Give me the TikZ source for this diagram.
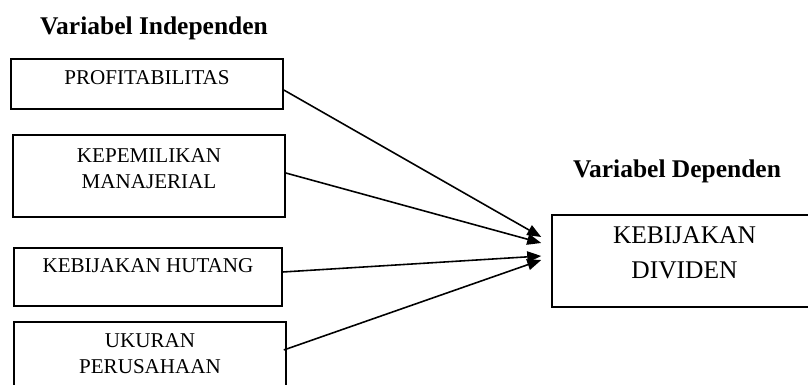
\documentclass[tikz,border=0pt]{standalone}
\usepackage{fontspec}
\setmainfont{Liberation Serif}
\usetikzlibrary{arrows.meta, positioning}

\begin{document}
\begin{tikzpicture}[
  x=0.02cm, y=0.02cm,
  varbox/.style={draw, line width=0.9pt, inner sep=0pt},
  boxtext/.style={inner sep=0pt, align=center, font=\fontsize{12}{15}\selectfont},
  deptext/.style={inner sep=0pt, align=center, font=\fontsize{14.5}{20}\selectfont},
  headtext/.style={anchor=base, inner sep=0pt, font=\fontsize{14.5}{17}\selectfont\bfseries},
  link/.style={-{Triangle[length=0.28cm, width=0.22cm]}, line width=0.9pt}
]

%% Frame (boxes run off the page at bottom and right)
\clip (0,0) rectangle (808,385);

%% ---- Headings ----
\node[headtext] (hind) at (154,350) {Variabel Independen};
\node[headtext] (hdep) at (677,207) {Variabel Dependen};

%% ---- Independent variables ----
\node[varbox, minimum width=5.44cm, minimum height=1.00cm] (profit) at (147,301) {};
\node[boxtext, below=0.24cm of profit.north] (profit-t) {PROFITABILITAS};

\node[varbox, minimum width=5.44cm, minimum height=1.64cm] (manaj) at (149,209) {};
\node[boxtext, below=0.28cm of manaj.north] (manaj-t) {KEPEMILIKAN\\MANAJERIAL};

\node[varbox, minimum width=5.36cm, minimum height=1.16cm] (hutang) at (148,108) {};
\node[boxtext, below=0.22cm of hutang.north] (hutang-t) {KEBIJAKAN HUTANG};

\node[varbox, minimum width=5.44cm, minimum height=1.56cm] (ukuran) at (150,24) {};
\node[boxtext, below=0.24cm of ukuran.north] (ukuran-t) {UKURAN\\PERUSAHAAN};

%% ---- Dependent variable ----
\node[varbox, minimum width=5.30cm, minimum height=1.84cm] (divid) at (684.5,124) {};
\node[deptext, below=0.24cm of divid.north] (divid-t) {KEBIJAKAN\\DIVIDEN};

%% ---- Arrow tips (just left of the dependent box) ----
\coordinate (tipA) at ([xshift=-0.2cm, yshift=0.48cm]divid.west);
\coordinate (tipB) at ([xshift=-0.2cm, yshift=0.36cm]divid.west);
\coordinate (tipC) at ([xshift=-0.2cm, yshift=0.10cm]divid.west);
\coordinate (tipD) at ([xshift=-0.2cm, yshift=0.02cm]divid.west);

%% ---- Links ----
\draw[link] ([yshift=-0.12cm]profit.east) -- (tipA);
\draw[link] ([yshift=0.06cm]manaj.east) -- (tipB);
\draw[link] ([yshift=0.10cm]hutang.east) -- (tipC);
\draw[link] ([xshift=-0.06cm, yshift=0.22cm]ukuran.east) -- (tipD);

\end{tikzpicture}
\end{document}
